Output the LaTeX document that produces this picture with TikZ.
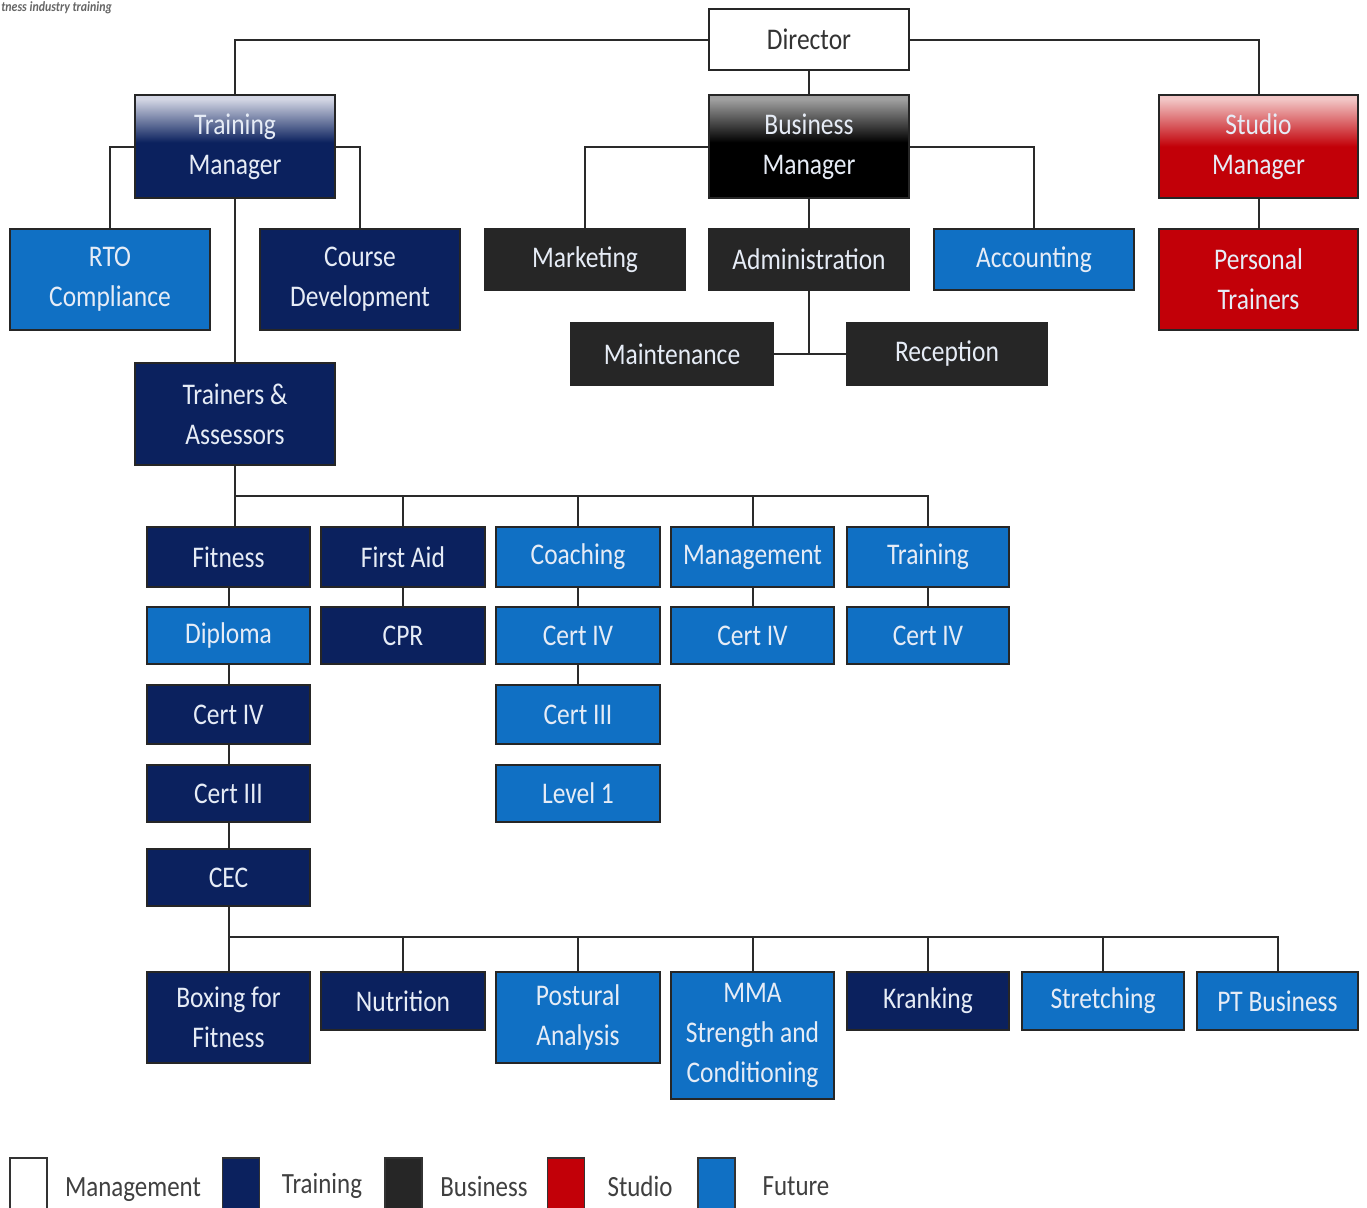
\documentclass[tikz,border=0pt]{standalone}
\usepackage{fontspec}
\setmainfont[FakeStretch=0.85]{Carlito}
\usetikzlibrary{calc}
\definecolor{tnavy}{HTML}{0B215E}
\definecolor{tblue}{HTML}{1070C4}
\definecolor{tdark}{HTML}{262626}
\definecolor{tred}{HTML}{C20008}
\definecolor{tmtop}{HTML}{D3D6E4}
\definecolor{bmtop}{HTML}{A0A0A0}
\definecolor{smtop}{HTML}{F2C6C6}
\definecolor{ttext}{HTML}{E6ECF6}
\definecolor{tline}{HTML}{2A2A2A}
\pgfdeclareverticalshading{tmshade}{100bp}{color(0bp)=(tnavy); color(52bp)=(tnavy); color(73bp)=(tmtop); color(100bp)=(tmtop)}
\pgfdeclareverticalshading{bmshade}{100bp}{color(0bp)=(black); color(52bp)=(black); color(73bp)=(bmtop); color(100bp)=(bmtop)}
\pgfdeclareverticalshading{smshade}{100bp}{color(0bp)=(tred); color(50bp)=(tred); color(73bp)=(smtop); color(100bp)=(smtop)}
\tikzset{
  bw/.style={minimum width={#1*0.75pt}},
  bh/.style={minimum height={#1*0.75pt}},
  box/.style={draw=black!85, line width=1.1pt, inner sep=0pt, align=center,
    text=ttext, font=\fontsize{22.5}{30}\selectfont},
  navybox/.style={box, fill=tnavy},
  bluebox/.style={box, fill=tblue},
  darkbox/.style={box, fill=tdark},
  redbox/.style={box, fill=tred},
  conn/.style={draw=tline, line width=1.5pt},
  legsq/.style={draw=black!80, line width=1pt, minimum width=27.75pt, minimum height=39pt, inner sep=0pt},
  legtxt/.style={text=black!75, font=\fontsize{22}{26}\selectfont, inner sep=0pt},
}
\begin{document}
\begin{tikzpicture}[x=0.75pt,y=-0.75pt]
\useasboundingbox[fill=white] (0,0) rectangle (1367,1207);

% logo text
\node[anchor=west, inner sep=0pt, text=black!60, font=\fontsize{10.5}{10.5}\selectfont\bfseries\itshape] (logo) at (1,8) {tness industry training};

% top level
\node[box, fill=white, text=black!80, bw=200, bh=61] (dir) at (809,39.5) {Director};
\node[box, shading=tmshade, bw=200, bh=103] (tm) at (235,146.5) {Training\\Manager};
\node[box, shading=bmshade, bw=200, bh=103] (bm) at (809,146.5) {Business\\Manager};
\node[box, shading=smshade, bw=199, bh=103] (sm) at (1258.5,146.5) {Studio\\Manager};

\node[bluebox, bw=200, bh=101] (rto) at (110,279.5) {RTO\\Compliance};
\node[navybox, bw=200, bh=101] (cd) at (360,279.5) {Course\\Development};
\node[darkbox, bw=200, bh=61] (mkt) at (585,259.5) {Marketing};
\node[darkbox, bw=200, bh=61] (adm) at (809,259.5) {Administration};
\node[bluebox, bw=200, bh=61] (acc) at (1034,259.5) {Accounting};
\node[redbox, bw=199, bh=101] (pt) at (1258.5,279.5) {Personal\\Trainers};
\node[darkbox, bw=202, bh=62] (mnt) at (672,354) {Maintenance};
\node[darkbox, bw=200, bh=62] (rec) at (947,354) {Reception};
\node[navybox, bw=200, bh=102] (ta) at (235,414) {Trainers \&\\Assessors};

% course rows
\node[navybox, bw=163, bh=60] (fit) at (228.5,557) {Fitness};
\node[navybox, bw=164, bh=60] (fa) at (403,557) {First Aid};
\node[bluebox, bw=164, bh=60] (coa) at (578,557) {Coaching};
\node[bluebox, bw=163, bh=60] (man) at (752.5,557) {Management};
\node[bluebox, bw=162, bh=60] (trn) at (928,557) {Training};

\node[bluebox, bw=163, bh=57] (dip) at (228.5,635.5) {Diploma};
\node[navybox, bw=164, bh=57] (cpr) at (403,635.5) {CPR};
\node[bluebox, bw=164, bh=57] (coa4) at (578,635.5) {Cert IV};
\node[bluebox, bw=163, bh=57] (man4) at (752.5,635.5) {Cert IV};
\node[bluebox, bw=162, bh=57] (trn4) at (928,635.5) {Cert IV};

\node[navybox, bw=163, bh=59] (fit4) at (228.5,714.5) {Cert IV};
\node[bluebox, bw=164, bh=59] (coa3) at (578,714.5) {Cert III};
\node[navybox, bw=163, bh=57] (fit3) at (228.5,793.5) {Cert III};
\node[bluebox, bw=164, bh=57] (lvl) at (578,793.5) {Level 1};
\node[navybox, bw=163, bh=57] (cec) at (228.5,877.5) {CEC};

% bottom row
\node[navybox, bw=163, bh=91] (box) at (228.5,1017.5) {Boxing for\\Fitness};
\node[navybox, bw=164, bh=58] (nut) at (403,1001) {Nutrition};
\node[bluebox, bw=164, bh=91] (pos) at (578,1017.5) {Postural\\Analysis};
\node[bluebox, bw=163, bh=127] (mma) at (752.5,1035.5) {MMA\\Strength and\\Conditioning};
\node[navybox, bw=162, bh=58] (kra) at (928,1001) {Kranking};
\node[bluebox, bw=162, bh=58] (str) at (1103,1001) {Stretching};
\node[bluebox, bw=161, bh=58] (ptb) at (1277.5,1001) {PT Business};

% connectors: top
\draw[conn] (dir.west) -| (tm.north);
\draw[conn] (dir.east) -| (sm.north);
\draw[conn] (dir.south) -- (bm.north);
\draw[conn] (tm.west) -| (rto.north);
\draw[conn] (tm.east) -| (cd.north);
\draw[conn] (tm.south) -- (ta.north);
\draw[conn] (bm.west) -| (mkt.north);
\draw[conn] (bm.east) -| (acc.north);
\draw[conn] (bm.south) -- (adm.north);
\draw[conn] (sm.south) -- (pt.north);
\draw[conn] (adm.south) -- (adm.south |- mnt.east);
\draw[conn] (mnt.east) -- (rec.west);

% connectors: course rows
\coordinate (bus1) at (0,496);
\draw[conn] (ta.south) -- (ta.south |- fit.north);
\draw[conn] (ta.south |- bus1) -| (trn.north);
\draw[conn] (fa.north) -- (fa.north |- bus1);
\draw[conn] (coa.north) -- (coa.north |- bus1);
\draw[conn] (man.north) -- (man.north |- bus1);
\draw[conn] (fit.south) -- (dip.north);
\draw[conn] (fa.south) -- (cpr.north);
\draw[conn] (coa.south) -- (coa4.north);
\draw[conn] (man.south) -- (man4.north);
\draw[conn] (trn.south) -- (trn4.north);
\draw[conn] (dip.south) -- (fit4.north);
\draw[conn] (fit4.south) -- (fit3.north);
\draw[conn] (fit3.south) -- (cec.north);
\draw[conn] (coa4.south) -- (coa3.north);

% connectors: bottom row
\coordinate (bus2) at (0,937);
\draw[conn] (cec.south) -- (box.north);
\draw[conn] (cec.south |- bus2) -| (ptb.north);
\draw[conn] (nut.north) -- (nut.north |- bus2);
\draw[conn] (pos.north) -- (pos.north |- bus2);
\draw[conn] (mma.north) -- (mma.north |- bus2);
\draw[conn] (kra.north) -- (kra.north |- bus2);
\draw[conn] (str.north) -- (str.north |- bus2);

% legend
\node[legsq, fill=white] (l1) at (28.5,1184) {};
\node[legsq, fill=tnavy] (l2) at (241,1184) {};
\node[legsq, fill=tdark] (l3) at (403.5,1184) {};
\node[legsq, fill=tred] (l4) at (566,1184) {};
\node[legsq, fill=tblue] (l5) at (716.5,1184) {};
\node[legtxt] (t1) at (133,1190) {Management};
\node[legtxt] (t2) at (322,1186) {Training};
\node[legtxt] (t3) at (484,1186) {Business};
\node[legtxt] (t4) at (640,1186) {Studio};
\node[legtxt] (t5) at (796,1186) {Future};
\end{tikzpicture}
\end{document}
